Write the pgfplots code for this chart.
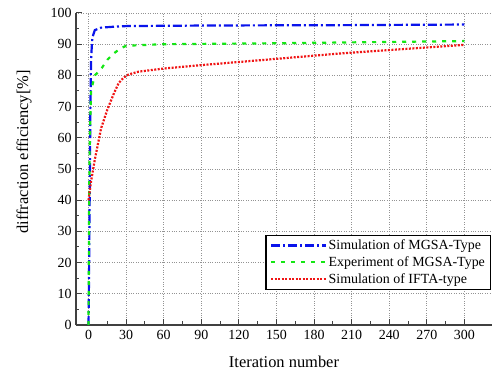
\documentclass[border=0pt]{standalone}
\usepackage{pgfplots}
\pgfplotsset{compat=1.18}
\usepackage{fontspec}
\setmainfont{Liberation Serif}
\definecolor{cblue}{RGB}{10,20,235}
\definecolor{cgreen}{RGB}{20,230,20}
\definecolor{cred}{RGB}{240,20,20}
\begin{document}
\begin{tikzpicture}
\useasboundingbox (-76bp,-52bp) rectangle (416bp,325bp);
\begin{axis}[
  scale only axis, width=416bp, height=312bp,
  xmin=-10, xmax=322, ymin=0, ymax=100,
  axis x line*=bottom, axis y line*=left,
  axis line style={line width=1.5bp, black!75, -},
  xtick={0,30,...,300}, ytick={0,10,...,100},
  minor x tick num=1, minor y tick num=1,
  tick align=inside,
  major tick length=6bp, minor tick length=3.5bp,
  tick style={line width=1bp, black!75},
  grid=major,
  major grid style={dotted, gray!85, line width=0.9bp},
  ticklabel style={font=\fontsize{14}{16}\selectfont},
  xticklabel style={yshift=-2bp},
  yticklabel style={xshift=-1bp},
  /pgf/number format/assume math mode=true,
  xlabel={Iteration number},
  ylabel={diffraction efficiency[\%]},
  label style={font=\fontsize{16.5}{18}\selectfont},
  xlabel style={at={(axis description cs:0.5,0)}, anchor=center, yshift=-37bp},
  ylabel style={at={(axis description cs:0,0.555)}, anchor=center, yshift=52bp},
  legend style={at={(0.998,0.112)}, anchor=south east, draw=black, line width=1.5bp,
    font=\fontsize{14}{15}\selectfont, inner xsep=4bp, inner ysep=3bp, row sep=2.5bp,
    nodes={line width=0.4bp, inner sep=1.5bp}},
  legend cell align=left,
  every axis plot/.append style={legend image code/.code={\draw[#1] (0bp,0bp) -- (55bp,0bp);}},
]
\addplot[cblue, line width=2.2bp, dash pattern=on 9bp off 3bp on 2bp off 3bp] coordinates {
(0,0) (0.5,20) (1,45) (1.5,70) (2,85) (3,92) (5,94.5) (10,95.3) (20,95.6) (30,95.8) (60,95.9) (100,96) (200,96.1) (300,96.3)};
\addlegendentry{Simulation of MGSA-Type}
\addplot[cgreen, line width=2.2bp, dash pattern=on 4bp off 6bp] coordinates {
(0,0) (0.5,40) (1,60) (2,75) (5,80) (10,82) (15,85) (20,87) (25,88.5) (30,89.5) (60,90) (150,90.3) (300,91)};
\addlegendentry{Experiment of MGSA-Type}
\addplot[cred, line width=2.2bp, dash pattern=on 2bp off 1.5bp] coordinates {
(0,40) (2,46) (5,53) (7,57) (10,63) (15,69) (20,74) (24,77.5) (28,79.3) (32,80.3) (40,81.2) (60,82.2) (90,83.3) (129,84.6) (200,87) (300,89.8)};
\addlegendentry{Simulation of IFTA-type}
\end{axis}
\end{tikzpicture}
\end{document}
